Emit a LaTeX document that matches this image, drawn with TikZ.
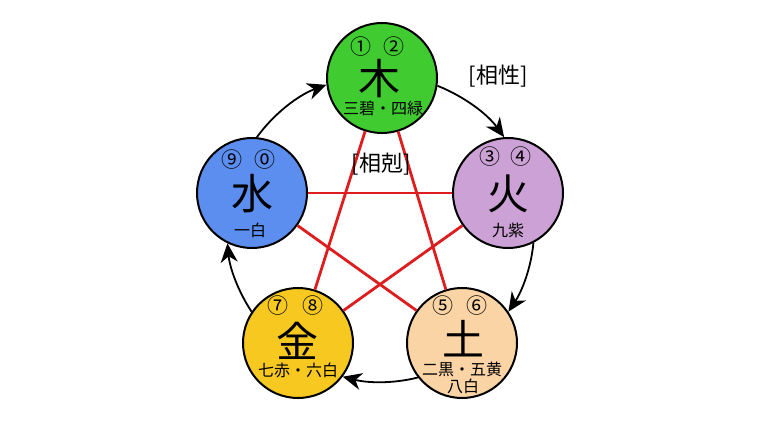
\documentclass[tikz,border=0pt]{standalone}
\usepackage{fontspec}
\newfontfamily\cjk{Noto Sans CJK JP}
\usetikzlibrary{arrows.meta}
\definecolor{woodc}{RGB}{64,204,48}
\definecolor{waterc}{RGB}{92,142,240}
\definecolor{firec}{RGB}{204,162,214}
\definecolor{metalc}{RGB}{246,200,32}
\definecolor{earthc}{RGB}{250,212,164}
\definecolor{redl}{RGB}{222,30,30}
\begin{document}
\begin{tikzpicture}[x=1pt,y=1pt,
  elem/.style={circle,draw=black,line width=2pt,minimum size=110pt,inner sep=0pt},
  big/.style={font=\cjk\fontsize{42}{42}\selectfont,inner sep=0pt},
  num/.style={font=\cjk\fontsize{21}{21}\selectfont,inner sep=0pt},
  sub/.style={font=\cjk\fontsize{16}{16}\selectfont,inner sep=0pt},
  lbl/.style={font=\cjk\fontsize{22}{22}\selectfont,inner sep=0pt},
  kline/.style={draw=redl,line width=2.8pt},
  sline/.style={draw=black,line width=1.8pt,-{Stealth[length=19pt,width=17pt,inset=6pt]},looseness=0.87}
]
\useasboundingbox (0,0) rectangle (760,-422);
\fill[white] (0,0) rectangle (760,-422);

% element circles
\node[elem,fill=woodc]  (wood)  at (382,-78)  {};
\node[elem,fill=firec]  (fire)  at (508,-193) {};
\node[elem,fill=earthc] (earth) at (462,-343) {};
\node[elem,fill=metalc] (metal) at (298,-343) {};
\node[elem,fill=waterc] (water) at (252,-193) {};

% star (mutual destruction)
\draw[kline] (wood) -- (metal);
\draw[kline] (wood) -- (earth);
\draw[kline] (water) -- (fire);
\draw[kline] (water) -- (earth);
\draw[kline] (fire) -- (metal);

% cycle (mutual generation)
\draw[sline] (wood.-8.1)   to[out=-21.7, in=125.9] (fire.94.3);
\draw[sline] (fire.-63.7)  to[out=-95.3, in=56.6]  (earth.34);
\draw[sline] (earth.-142.9) to[out=-165.6, in=-14.4] (metal.-37.1);
\draw[sline] (metal.146)   to[out=123.4, in=-84.7] (water.-116.3);
\draw[sline] (water.85.7)  to[out=54.1, in=200.1]  (wood.-173.4);

% wood
\node[num] (w1) at (361,-47) {①};
\node[num] (w2) at (394,-47) {②};
\node[big] (wc) at (379,-79) {木};
\node[sub] (ws) at (383,-108) {三碧・四緑};
% fire
\node[num] (f1) at (490,-157) {③};
\node[num] (f2) at (521,-157) {④};
\node[big] (fc) at (508,-194) {火};
\node[sub] (fs) at (508,-230) {九紫};
% earth
\node[num] (e1) at (443,-306) {⑤};
\node[num] (e2) at (477,-306) {⑥};
\node[big] (ec) at (463,-339) {土};
\node[sub] (es) at (462,-369) {二黒・五黄};
\node[sub] (es2) at (463,-386) {八白};
% metal
\node[num] (m1) at (278,-306) {⑦};
\node[num] (m2) at (313,-306) {⑧};
\node[big] (mc) at (297,-341) {金};
\node[sub] (ms) at (298,-370) {七赤・六白};
% water
\node[num] (a1) at (232,-160) {⑨};
\node[num] (a2) at (265,-160) {⓪};
\node[big] (ac) at (252,-194) {水};
\node[sub] (as) at (250,-230) {一白};

% labels
\node[lbl] (sho) at (498,-76) {[相性]};
\node[lbl] (kok) at (381,-164) {[相剋]};
\end{tikzpicture}
\end{document}
